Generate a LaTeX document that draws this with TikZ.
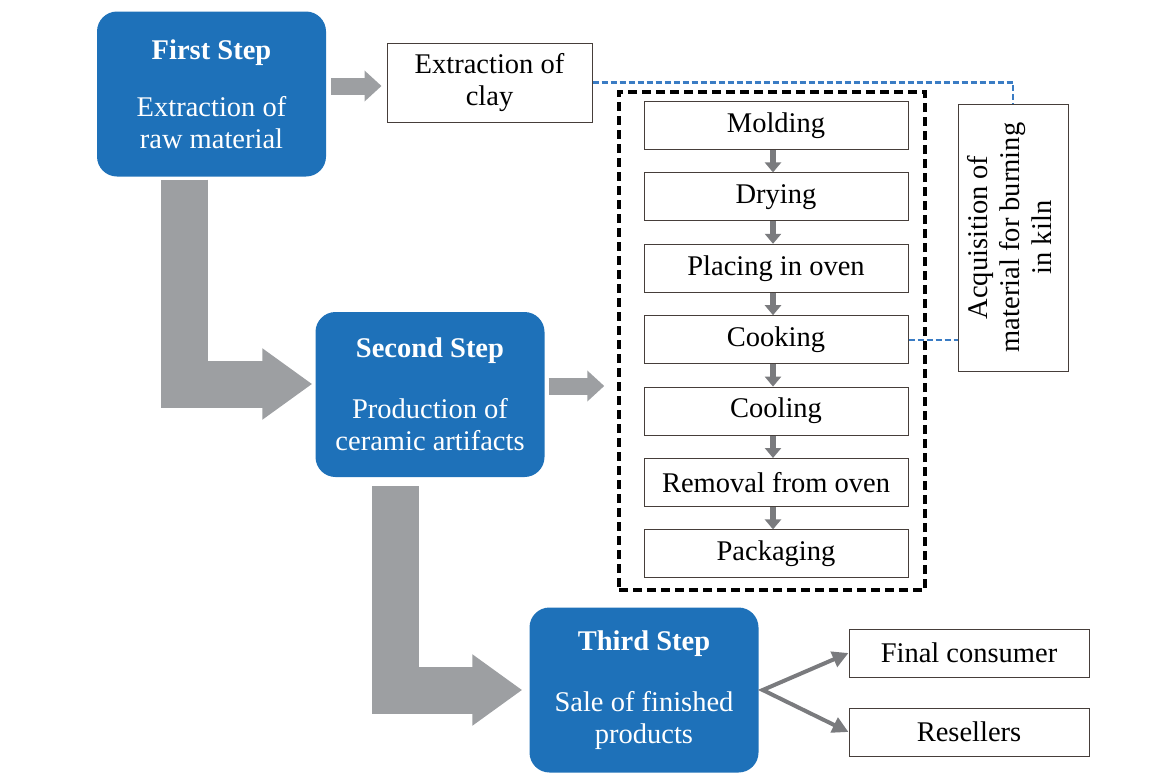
\documentclass[tikz,border=0pt]{standalone}
\usepackage{fontspec}
\setmainfont{Liberation Serif}
\usepackage{graphicx}
\usetikzlibrary{arrows.meta}

\definecolor{stepblue}{RGB}{30,113,185}
\definecolor{bigarrowgray}{RGB}{157,159,162}
\definecolor{smallarrowgray}{RGB}{122,123,126}
\definecolor{linkblue}{RGB}{58,124,196}
\definecolor{boxline}{RGB}{70,62,58}

\tikzset{
  stepbox/.style={rectangle, rounded corners=20pt, fill=stepblue, text=white,
    align=center, minimum width=229pt, minimum height=165pt, inner sep=0pt},
  taskbox/.style={rectangle, draw=boxline, line width=1pt, fill=white,
    align=center, inner sep=0pt},
  stageframe/.style={rectangle, draw=black, line width=3.5pt,
    dash pattern=on 9pt off 5pt},
  bigarrow/.style={color=bigarrowgray, line width=47pt,
    -{Triangle[length=50pt,width=68pt]}},
  midarrow/.style={color=bigarrowgray, line width=17pt,
    -{Triangle[length=17pt,width=30pt]}},
  stagearrow/.style={color=smallarrowgray, line width=6pt,
    -{Triangle[length=10pt,width=16pt]}},
  fanarrow/.style={color=smallarrowgray, line width=4pt,
    {Triangle[length=16pt,width=16pt]}-{Triangle[length=16pt,width=16pt]}},
  linkline/.style={draw=linkblue, line width=2.2pt, dash pattern=on 6pt off 3pt}
}

\begin{document}
\begin{tikzpicture}[x=1pt, y=-1pt, line join=miter, font=\fontsize{28.5}{32}\selectfont]
  \useasboundingbox (0,0) rectangle (1165,772);

  % the three steps
  \node[stepbox] (first) at (211.5,94) {\textbf{First Step}\\[25pt]Extraction of\\raw material};
  \node[stepbox] (second) at (430,394.5) {\textbf{Second Step}\\[29pt]Production of\\ceramic artifacts};
  \node[stepbox] (third) at (644,690) {\textbf{Third Step}\\[29pt]Sale of finished\\products};

  \node[taskbox, minimum width=205pt, minimum height=79pt] (clay) at (489.5,82.5) {Extraction of\\clay};

  % production stages
  \node[stageframe, minimum width=306pt, minimum height=498pt] (stages) at (772,341) {};
  \foreach \name/\txt [count=\i from 0] in {molding/Molding, drying/Drying, placing/Placing in oven,
      cooking/Cooking, cooling/Cooling, removal/Removal from oven, packaging/Packaging}
    \node[taskbox, minimum width=264pt, minimum height=48pt] (\name) at (776,125.5+71.4*\i) {\txt};
  \foreach \a/\b in {molding/drying, drying/placing, placing/cooking, cooking/cooling,
      cooling/removal, removal/packaging}
    \draw[stagearrow] ([xshift=-3pt]\a.south) -- ([xshift=-3pt]\b.north);

  \node[taskbox, minimum width=110pt, minimum height=267pt] (kiln) at (1013,237.5)
    {\rotatebox{90}{\begin{tabular}{@{}c@{}}Acquisition of\\material for burning\\in kiln\end{tabular}}};

  \node[taskbox, minimum width=240pt, minimum height=48pt] (consumer) at (969,653) {Final consumer};
  \node[taskbox, minimum width=240pt, minimum height=48pt] (resellers) at (969,732) {Resellers};

  % links
  \draw[linkline] (clay.east) -| (kiln.north);
  \draw[linkline] (cooking.east) -- (cooking.east -| kiln.west);

  \draw[midarrow] ([shift={(5,-8)}]first.east) -- ([shift={(-5,3.5)}]clay.west);
  \draw[midarrow] ([shift={(4,-8.5)}]second.east) -- ([shift={(-13,45)}]stages.west);
  \draw[bigarrow] ([shift={(-27.5,3)}]first.south) |- ([shift={(-3,-10.5)}]second.west);
  \draw[bigarrow] ([shift={(-34.5,9)}]second.south) |- ([shift={(-7,0)}]third.west);
  \draw[fanarrow] (consumer.west) -- ([xshift=4pt]third.east) -- (resellers.west);
\end{tikzpicture}
\end{document}
